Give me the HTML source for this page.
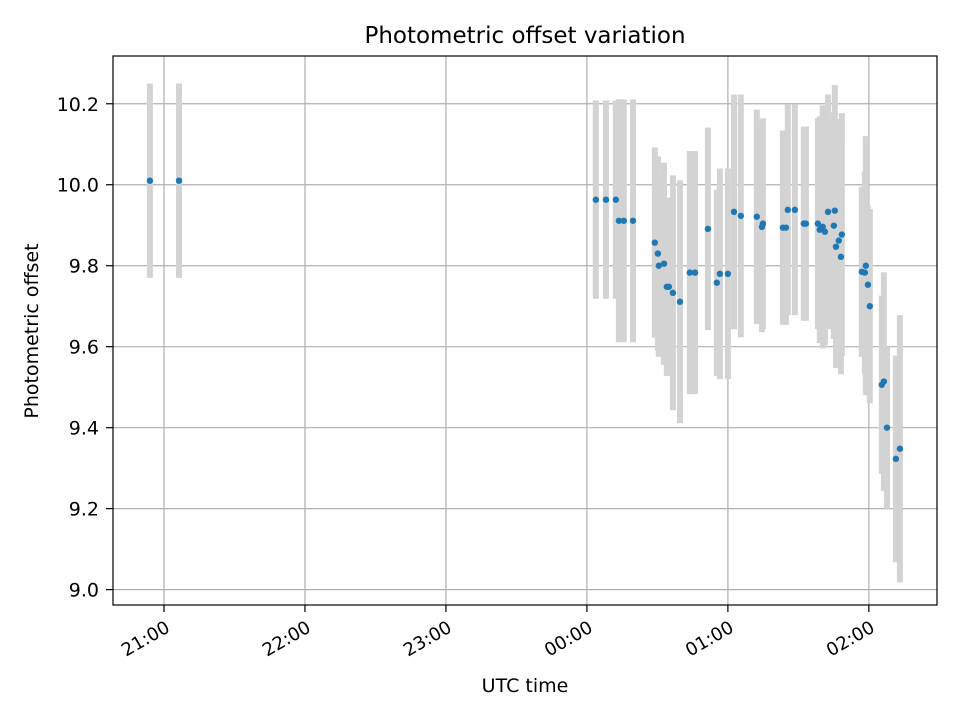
<!DOCTYPE html>
<html><head><meta charset="utf-8"><style>
body{margin:0;background:#fff;}
svg{display:block;font-family:"DejaVu Sans","Liberation Sans",sans-serif;}
</style></head><body>
<svg id="chart" width="960" height="720" xmlns="http://www.w3.org/2000/svg">
<rect width="960" height="720" fill="#fff"/>
<g id="grid"></g>
<g id="errbars"></g>
<g id="points"></g>
<rect x="113" y="56" width="824" height="549" fill="none" stroke="#000" stroke-width="1.2"/>
<g id="axes"></g>
<text x="525" y="43" text-anchor="middle" font-size="23">Photometric offset variation</text>
<text x="525" y="692" text-anchor="middle" font-size="19">UTC time</text>
<text transform="translate(38,331) rotate(-90)" text-anchor="middle" font-size="19">Photometric offset</text>
</svg>
<script>
// minutes since 20:00 UTC
const times=[54.0,66.4,243.8,248.1,252.3,253.6,255.7,259.6,268.9,270.2,270.6,272.8,274.0,274.9,276.6,279.6,283.8,286.0,291.5,295.3,296.6,300.0,302.6,305.5,312.3,314.9,314.5,323.4,324.7,325.5,328.5,332.3,333.2,338.3,339.1,340.4,341.3,342.6,345.5,345.1,348.5,347.2,346.0,348.1,357.0,358.3,358.7,359.6,360.4,365.5,366.4,367.7,371.5,373.2];
const offsets=[10.01,10.01,9.963,9.963,9.963,9.911,9.911,9.911,9.857,9.83,9.80,9.805,9.748,9.748,9.733,9.711,9.783,9.783,9.891,9.758,9.78,9.78,9.933,9.923,9.921,9.904,9.896,9.894,9.894,9.938,9.938,9.904,9.904,9.904,9.889,9.896,9.884,9.933,9.936,9.899,9.877,9.862,9.847,9.822,9.785,9.783,9.80,9.753,9.70,9.506,9.514,9.40,9.323,9.348];
const errors=[0.24,0.24,0.245,0.245,0.245,0.30,0.30,0.30,0.235,0.24,0.225,0.25,0.22,0.22,0.29,0.30,0.30,0.30,0.25,0.23,0.26,0.26,0.29,0.30,0.265,0.26,0.26,0.24,0.24,0.26,0.26,0.24,0.24,0.26,0.28,0.30,0.28,0.29,0.31,0.28,0.30,0.30,0.30,0.29,0.21,0.25,0.32,0.195,0.24,0.22,0.27,0.20,0.255,0.33];
const yTicks=[9.0,9.2,9.4,9.6,9.8,10.0,10.2];
const xTickMinutes=[60,120,180,240,300,360];
const xTickLabels=["21:00","22:00","23:00","00:00","01:00","02:00"];

const NS="http://www.w3.org/2000/svg";
const X0=113,X1=937,Y0=56,Y1=605;
const xMin=38.3,xMax=389.0,yMin=8.962,yMax=10.318;
function xs(m){return X0+(m-xMin)/(xMax-xMin)*(X1-X0);}
function ys(v){return Y1-(v-yMin)/(yMax-yMin)*(Y1-Y0);}
function mk(tag,attrs,parent){const e=document.createElementNS(NS,tag);for(const k in attrs)e.setAttribute(k,attrs[k]);parent.appendChild(e);return e;}
const grid=document.getElementById('grid'),axes=document.getElementById('axes');
yTicks.forEach(v=>{
  const y=ys(v);
  const g=mk('line',{x1:X0,x2:X1,y1:y,y2:y,stroke:'#b0b0b0','stroke-width':1.2},grid);
  
  
  const t=mk('line',{x1:X0-7,x2:X0,y1:y,y2:y,stroke:'#000','stroke-width':1.2},axes);
  
  
  const l=mk('text',{x:X0-14,y:y+7,'text-anchor':'end','font-size':19},axes);
  l.textContent=v.toFixed(1);
  
  
});
xTickMinutes.forEach((m,i)=>{
  const x=xs(m);
  const g=mk('line',{x1:x,x2:x,y1:Y0,y2:Y1,stroke:'#b0b0b0','stroke-width':1.2},grid);
  
  
  const t=mk('line',{x1:x,x2:x,y1:Y1,y2:Y1+7,stroke:'#000','stroke-width':1.2},axes);
  
  
  const ax=x+3, ay=Y1+27;
  const l=mk('text',{x:ax,y:ay,'text-anchor':'end','font-size':18,transform:'rotate(-30 '+ax+' '+(ay-8)+')'},axes);
  l.textContent=xTickLabels[i];
  
  
});
const eb=document.getElementById('errbars'),pts=document.getElementById('points');
times.forEach((m,i)=>{
  const x=xs(m);
  const b=mk('line',{x1:x,x2:x,y1:ys(offsets[i]+errors[i]),y2:ys(offsets[i]-errors[i]),stroke:'#d3d3d3','stroke-width':6},eb);
  
  
});
times.forEach((m,i)=>{
  const c=mk('circle',{cx:xs(m),cy:ys(offsets[i]),r:3.2,fill:'#1f77b4'},pts);
  
  
});
</script>
</body></html>
